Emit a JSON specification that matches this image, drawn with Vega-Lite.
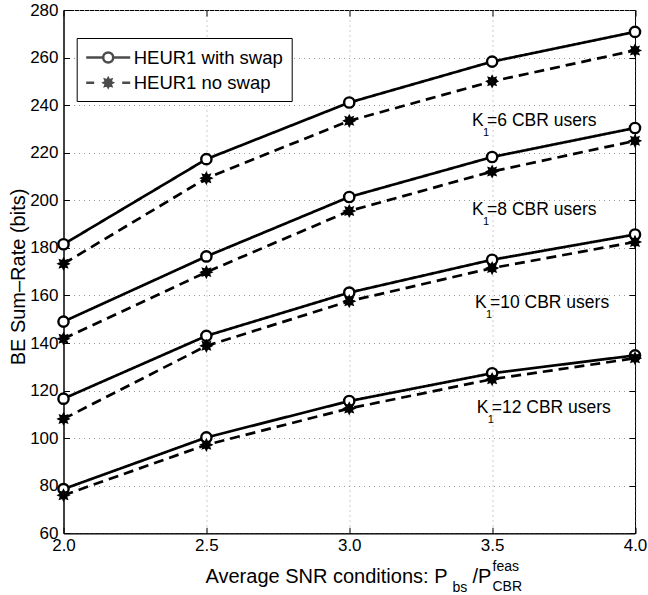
{
  "$schema": "https://vega.github.io/schema/vega-lite/v6.json",
  "width": 571.5,
  "height": 523.3,
  "autosize": {"type": "none"},
  "padding": {"left": 63.5, "top": 10, "right": 13, "bottom": 61.7},
  "background": "white",
  "config": {
    "font": "Liberation Sans",
    "view": {"stroke": "black", "strokeWidth": 1},
    "axis": {
      "labelFont": "Liberation Sans",
      "titleFont": "Liberation Sans",
      "labelColor": "black",
      "titleColor": "black",
      "titleFontWeight": "normal",
      "domainColor": "black",
      "tickColor": "black",
      "labelFlush": false,
      "labelOverlap": false
    }
  },
  "datasets": {
    "curves": [
      {"x": 2.0, "y": 181.5, "K": "6", "series": "HEUR1 with swap"},
      {"x": 2.5, "y": 217.3, "K": "6", "series": "HEUR1 with swap"},
      {"x": 3.0, "y": 241.1, "K": "6", "series": "HEUR1 with swap"},
      {"x": 3.5, "y": 258.3, "K": "6", "series": "HEUR1 with swap"},
      {"x": 4.0, "y": 270.8, "K": "6", "series": "HEUR1 with swap"},
      {"x": 2.0, "y": 173.3, "K": "6", "series": "HEUR1 no swap"},
      {"x": 2.5, "y": 209.3, "K": "6", "series": "HEUR1 no swap"},
      {"x": 3.0, "y": 233.4, "K": "6", "series": "HEUR1 no swap"},
      {"x": 3.5, "y": 250.0, "K": "6", "series": "HEUR1 no swap"},
      {"x": 4.0, "y": 263.0, "K": "6", "series": "HEUR1 no swap"},
      {"x": 2.0, "y": 149.0, "K": "8", "series": "HEUR1 with swap"},
      {"x": 2.5, "y": 176.4, "K": "8", "series": "HEUR1 with swap"},
      {"x": 3.0, "y": 201.4, "K": "8", "series": "HEUR1 with swap"},
      {"x": 3.5, "y": 218.2, "K": "8", "series": "HEUR1 with swap"},
      {"x": 4.0, "y": 230.4, "K": "8", "series": "HEUR1 with swap"},
      {"x": 2.0, "y": 141.8, "K": "8", "series": "HEUR1 no swap"},
      {"x": 2.5, "y": 169.8, "K": "8", "series": "HEUR1 no swap"},
      {"x": 3.0, "y": 195.5, "K": "8", "series": "HEUR1 no swap"},
      {"x": 3.5, "y": 212.1, "K": "8", "series": "HEUR1 no swap"},
      {"x": 4.0, "y": 225.0, "K": "8", "series": "HEUR1 no swap"},
      {"x": 2.0, "y": 116.6, "K": "10", "series": "HEUR1 with swap"},
      {"x": 2.5, "y": 143.0, "K": "10", "series": "HEUR1 with swap"},
      {"x": 3.0, "y": 161.2, "K": "10", "series": "HEUR1 with swap"},
      {"x": 3.5, "y": 175.0, "K": "10", "series": "HEUR1 with swap"},
      {"x": 4.0, "y": 185.6, "K": "10", "series": "HEUR1 with swap"},
      {"x": 2.0, "y": 108.1, "K": "10", "series": "HEUR1 no swap"},
      {"x": 2.5, "y": 138.8, "K": "10", "series": "HEUR1 no swap"},
      {"x": 3.0, "y": 157.6, "K": "10", "series": "HEUR1 no swap"},
      {"x": 3.5, "y": 171.5, "K": "10", "series": "HEUR1 no swap"},
      {"x": 4.0, "y": 182.5, "K": "10", "series": "HEUR1 no swap"},
      {"x": 2.0, "y": 78.6, "K": "12", "series": "HEUR1 with swap"},
      {"x": 2.5, "y": 100.3, "K": "12", "series": "HEUR1 with swap"},
      {"x": 3.0, "y": 115.6, "K": "12", "series": "HEUR1 with swap"},
      {"x": 3.5, "y": 127.3, "K": "12", "series": "HEUR1 with swap"},
      {"x": 4.0, "y": 134.8, "K": "12", "series": "HEUR1 with swap"},
      {"x": 2.0, "y": 76.0, "K": "12", "series": "HEUR1 no swap"},
      {"x": 2.5, "y": 97.2, "K": "12", "series": "HEUR1 no swap"},
      {"x": 3.0, "y": 112.5, "K": "12", "series": "HEUR1 no swap"},
      {"x": 3.5, "y": 124.8, "K": "12", "series": "HEUR1 no swap"},
      {"x": 4.0, "y": 133.6, "K": "12", "series": "HEUR1 no swap"}
    ],
    "notes": [
      {"x": 3.43, "y": 231.2, "pre": "K", "sub": "1", "rest": "=6 CBR users"},
      {"x": 3.43, "y": 193.8, "pre": "K", "sub": "1", "rest": "=8 CBR users"},
      {"x": 3.44, "y": 154.6, "pre": "K", "sub": "1", "rest": "=10 CBR users"},
      {"x": 3.446, "y": 110.4, "pre": "K", "sub": "1", "rest": "=12 CBR users"}
    ]
  },
  "data": {"name": "curves"},
  "resolve": {
    "axis": {"x": "independent", "y": "independent"},
    "scale": {"shape": "independent"},
    "legend": {"shape": "independent"}
  },
  "layer": [
    {
      "mark": {"type": "line", "strokeWidth": 2.7, "color": "black"},
      "encoding": {
        "x": {"field": "x", "type": "quantitative", "scale": {"domain": [2, 4], "nice": false, "zero": false},
          "axis": {"orient": "bottom", "values": [2, 2.5, 3, 3.5, 4], "format": ".1f", "labelFontSize": 17, "labelPadding": 10,
            "tickSize": -6, "grid": true, "gridColor": "#9a9a9a", "gridDash": [1, 4], "gridWidth": 1,
            "title": "Average SNR conditions: P", "titleFontSize": 20, "titleAlign": "left", "titleAnchor": null,
            "titleBaseline": "alphabetic", "titleX": 141.5, "titleY": 48.7}},
        "y": {"field": "y", "type": "quantitative", "scale": {"domain": [60, 280], "nice": false, "zero": false},
          "axis": {"orient": "left", "values": [60, 80, 100, 120, 140, 160, 180, 200, 220, 240, 260, 280], "labelFontSize": 17, "labelPadding": 11.5,
            "tickSize": -6, "grid": true, "gridColor": "#9a9a9a", "gridDash": [1, 4], "gridWidth": 1,
            "title": "BE Sum–Rate (bits)", "titleFontSize": 20, "titleAngle": -90, "titleAlign": "center",
            "titleBaseline": "middle", "titleX": -45.5, "titleY": 266.5}},
        "detail": {"field": "K"},
        "strokeDash": {"field": "series", "type": "nominal",
          "scale": {"domain": ["HEUR1 with swap", "HEUR1 no swap"], "range": [[1, 0], [10, 6]]}, "legend": null}
      }
    },
    {
      "mark": {"type": "point", "filled": false, "fill": "white", "fillOpacity": 1, "stroke": "black", "strokeWidth": 2.4, "size": 105, "opacity": 1},
      "encoding": {
        "x": {"field": "x", "type": "quantitative",
          "axis": {"orient": "bottom", "title": "bs", "titleFontSize": 14, "titleAlign": "left", "titleAnchor": null, "titleBaseline": "alphabetic",
            "titleX": 388.5, "titleY": 57.7, "labels": false, "ticks": false, "domain": false, "grid": false}},
        "y": {"field": "y", "type": "quantitative",
          "axis": {"orient": "right", "title": null, "labels": false, "tickSize": -6, "domain": false, "grid": false,
            "values": [60, 80, 100, 120, 140, 160, 180, 200, 220, 240, 260, 280]}},
        "shape": {"field": "series", "type": "nominal",
          "scale": {"domain": ["HEUR1 with swap", "HEUR1 no swap"],
            "range": ["circle", "M0.85,0L0.46,0.19L0.6,0.6L0.19,0.46L0,0.85L-0.19,0.46L-0.6,0.6L-0.46,0.19L-0.85,0L-0.46,-0.19L-0.6,-0.6L-0.19,-0.46L0,-0.85L0.19,-0.46L0.6,-0.6L0.46,-0.19ZM-0.5,0L0.5,0M0,-0.5L0,0.5M-0.35,-0.35L0.35,0.35M-0.35,0.35L0.35,-0.35M-0.2,0L0.2,0M0,-0.2L0,0.2"]}, "legend": null}
      }
    },
    {
      "transform": [{"filter": "false"}],
      "mark": {"type": "point", "filled": false, "stroke": "black", "strokeWidth": 2.5},
      "encoding": {
        "x": {"field": "x", "type": "quantitative",
          "axis": {"orient": "top", "title": null, "labels": false, "tickSize": -6, "domain": false, "grid": false,
            "values": [2, 2.5, 3, 3.5, 4]}},
        "y": {"field": "y", "type": "quantitative", "axis": null},
        "shape": {"field": "series", "type": "nominal",
          "scale": {"domain": ["HEUR1 with swap", "HEUR1 no swap"],
            "range": ["M-2.2,0L-0.5,0M0.5,0L2.2,0M0.5,0A0.5,0.5,0,1,1,-0.5,0A0.5,0.5,0,1,1,0.5,0",
                      "M-2.2,0L-1.4,0M1.4,0L2.2,0M0.42,0L0.23,0.095L0.3,0.3L0.095,0.23L0,0.42L-0.095,0.23L-0.3,0.3L-0.23,0.095L-0.42,0L-0.23,-0.095L-0.3,-0.3L-0.095,-0.23L0,-0.42L0.095,-0.23L0.3,-0.3L0.23,-0.095ZM-0.25,0L0.25,0M0,-0.25L0,0.25M-0.1,0L0.1,0"]},
          "legend": {"title": null, "orient": "none", "legendX": 13.2, "legendY": 28, "padding": 8,
            "strokeColor": "black", "fillColor": "white", "cornerRadius": 0,
            "symbolSize": 400, "symbolStrokeWidth": 2.5, "symbolStrokeColor": "black", "symbolFillColor": "white",
            "symbolOffset": 12, "labelFontSize": 18.5, "labelOffset": 14, "rowPadding": 3.2,
            "labelColor": "black", "labelFont": "Liberation Sans", "labelLimit": 0}}
      }
    },
    {
      "transform": [{"filter": "false"}],
      "mark": {"type": "point"},
      "encoding": {
        "x": {"field": "x", "type": "quantitative",
          "axis": {"orient": "bottom", "title": "/P", "titleFontSize": 20, "titleAlign": "left", "titleAnchor": null, "titleBaseline": "alphabetic",
            "titleX": 408.5, "titleY": 48.7, "labels": false, "ticks": false, "domain": false, "grid": false}},
        "y": {"field": "y", "type": "quantitative", "axis": null}
      }
    },
    {
      "transform": [{"filter": "false"}],
      "mark": {"type": "point"},
      "encoding": {
        "x": {"field": "x", "type": "quantitative",
          "axis": {"orient": "bottom", "title": "feas", "titleFontSize": 14, "titleAlign": "left", "titleAnchor": null, "titleBaseline": "alphabetic",
            "titleX": 428.5, "titleY": 36.7, "labels": false, "ticks": false, "domain": false, "grid": false}},
        "y": {"field": "y", "type": "quantitative", "axis": null}
      }
    },
    {
      "transform": [{"filter": "false"}],
      "mark": {"type": "point"},
      "encoding": {
        "x": {"field": "x", "type": "quantitative",
          "axis": {"orient": "bottom", "title": "CBR", "titleFontSize": 14, "titleAlign": "left", "titleAnchor": null, "titleBaseline": "alphabetic",
            "titleX": 428.5, "titleY": 56.7, "labels": false, "ticks": false, "domain": false, "grid": false}},
        "y": {"field": "y", "type": "quantitative", "axis": null}
      }
    },
    {
      "data": {"name": "notes"},
      "mark": {"type": "text", "align": "left", "baseline": "alphabetic", "fontSize": 17.5, "color": "black"},
      "encoding": {
        "x": {"field": "x", "type": "quantitative", "axis": null},
        "y": {"field": "y", "type": "quantitative", "axis": null},
        "text": {"field": "pre"}
      }
    },
    {
      "data": {"name": "notes"},
      "mark": {"type": "text", "align": "left", "baseline": "alphabetic", "fontSize": 11, "color": "black", "dx": 11, "dy": 10},
      "encoding": {
        "x": {"field": "x", "type": "quantitative", "axis": null},
        "y": {"field": "y", "type": "quantitative", "axis": null},
        "text": {"field": "sub"}
      }
    },
    {
      "data": {"name": "notes"},
      "mark": {"type": "text", "align": "left", "baseline": "alphabetic", "fontSize": 17.5, "color": "black", "dx": 15},
      "encoding": {
        "x": {"field": "x", "type": "quantitative", "axis": null},
        "y": {"field": "y", "type": "quantitative", "axis": null},
        "text": {"field": "rest"}
      }
    }
  ]
}
